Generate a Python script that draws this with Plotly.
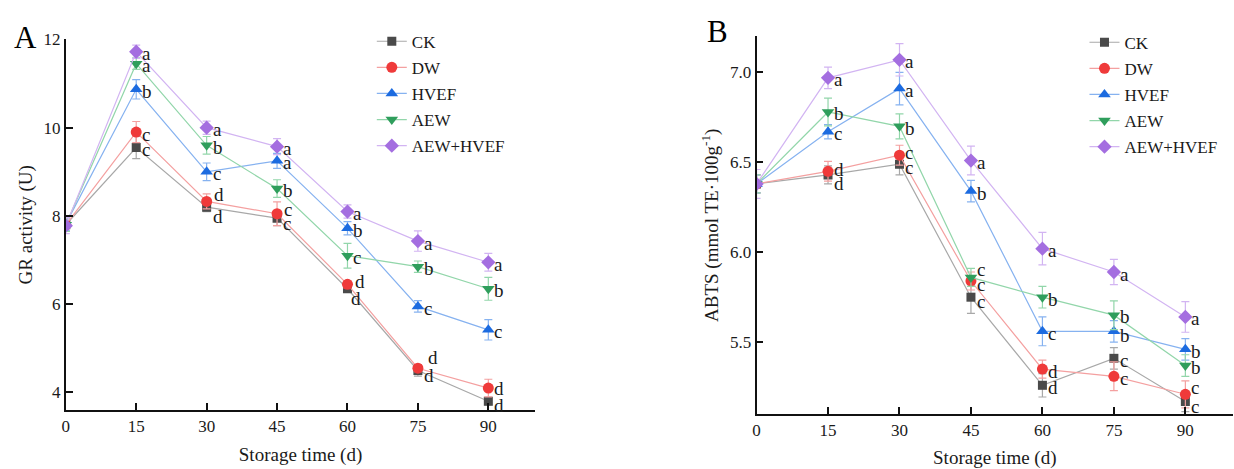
import plotly.graph_objects as go

# Storage days
days = [0, 15, 30, 45, 60, 75, 90]
groups = ["CK", "DW", "HVEF", "AEW", "AEW+HVEF"]

# Panel A: GR activity (U)
gr_ck = [7.80, 9.55, 8.20, 7.95, 6.35, 4.50, 3.80]
gr_dw = [7.80, 9.90, 8.33, 8.05, 6.45, 4.55, 4.10]
gr_hvef = [7.82, 10.87, 9.00, 9.25, 7.72, 5.95, 5.42]
gr_aew = [7.80, 11.45, 9.60, 8.62, 7.10, 6.85, 6.35]
gr_mix = [7.78, 11.72, 10.00, 9.57, 8.10, 7.43, 6.95]

gr_ck_err = [0.15, 0.25, 0.10, 0.17, 0.08, 0.13, 0.08]
gr_dw_err = [0.15, 0.24, 0.17, 0.27, 0.08, 0.08, 0.20]
gr_hvef_err = [0.15, 0.22, 0.20, 0.17, 0.15, 0.13, 0.23]
gr_aew_err = [0.15, 0.13, 0.20, 0.20, 0.28, 0.13, 0.26]
gr_mix_err = [0.18, 0.15, 0.15, 0.18, 0.15, 0.23, 0.20]

gr_ck_sig = ["", "c", "d", "c", "d", "d", "d"]
gr_dw_sig = ["", "c", "d", "c", "d", "d", "d"]
gr_hvef_sig = ["", "b", "c", "a", "b", "c", "c"]
gr_aew_sig = ["", "a", "b", "b", "c", "b", "b"]
gr_mix_sig = ["", "a", "a", "a", "a", "a", "a"]

# Panel B: ABTS (mmol TE·100g-1)
abts_ck = [6.38, 6.43, 6.49, 5.75, 5.26, 5.41, 5.17]
abts_dw = [6.38, 6.45, 6.54, 5.84, 5.35, 5.31, 5.21]
abts_hvef = [6.38, 6.67, 6.91, 6.34, 5.56, 5.56, 5.46]
abts_aew = [6.38, 6.78, 6.70, 5.86, 5.75, 5.65, 5.37]
abts_mix = [6.38, 6.97, 7.07, 6.51, 6.02, 5.89, 5.64]

abts_ck_err = [0.05, 0.05, 0.06, 0.09, 0.065, 0.06, 0.056]
abts_dw_err = [0.05, 0.055, 0.055, 0.05, 0.05, 0.08, 0.075]
abts_hvef_err = [0.05, 0.04, 0.09, 0.06, 0.08, 0.06, 0.06]
abts_aew_err = [0.05, 0.077, 0.07, 0.05, 0.06, 0.08, 0.06]
abts_mix_err = [0.08, 0.06, 0.09, 0.08, 0.09, 0.07, 0.085]

abts_ck_sig = ["", "d", "c", "c", "d", "c", "c"]
abts_dw_sig = ["", "d", "c", "c", "d", "c", "c"]
abts_hvef_sig = ["", "c", "a", "b", "c", "b", "b"]
abts_aew_sig = ["", "b", "b", "c", "b", "b", "b"]
abts_mix_sig = ["", "a", "a", "a", "a", "a", "a"]

# Styling per group
marker_colors = ["#4a4a4a", "#ef3a3a", "#1c6be0", "#2f9e5c", "#a46ee0"]
line_colors = ["#a8a8a8", "#f4a0a0", "#86b2f0", "#92d6aa", "#d2b4f2"]
symbols = ["square", "circle", "triangle-up", "triangle-down", "diamond"]
sizes = [9, 11, 11, 11, 11]

FONT = "Liberation Serif, Times New Roman, serif"
TXT = "#1a1a1a"

# Label nudges (pixels) where letters would collide: (panel, group idx, day idx) -> (dx, dy)
nudges = {
    ("A", 0, 2): (4, -9), ("A", 1, 2): (5, 7),
    ("A", 0, 3): (4, -5), ("A", 1, 3): (5, 4),
    ("A", 0, 4): (2, -10), ("A", 1, 4): (6, 3),
    ("A", 0, 5): (4, -5), ("A", 1, 5): (8, 11),
    ("A", 0, 6): (4, -4), ("A", 1, 6): (4, 0),
    ("B", 0, 1): (4, -9), ("B", 1, 1): (4, 2),
    ("B", 0, 2): (4, -3), ("B", 1, 2): (4, 3),
    ("B", 3, 3): (4, 8), ("B", 1, 3): (4, -3), ("B", 0, 3): (4, -4),
    ("B", 3, 5): (4, -1), ("B", 2, 5): (4, -4),
    ("B", 1, 6): (4, 7), ("B", 0, 6): (4, -5),
}

fig = go.Figure()
annotations = []

panels = [
    ("A", "x", "y", "legend",
     [gr_ck, gr_dw, gr_hvef, gr_aew, gr_mix],
     [gr_ck_err, gr_dw_err, gr_hvef_err, gr_aew_err, gr_mix_err],
     [gr_ck_sig, gr_dw_sig, gr_hvef_sig, gr_aew_sig, gr_mix_sig]),
    ("B", "x2", "y2", "legend2",
     [abts_ck, abts_dw, abts_hvef, abts_aew, abts_mix],
     [abts_ck_err, abts_dw_err, abts_hvef_err, abts_aew_err, abts_mix_err],
     [abts_ck_sig, abts_dw_sig, abts_hvef_sig, abts_aew_sig, abts_mix_sig]),
]

for pname, xa, ya, leg, series, errs, sigs in panels:
    for i, g in enumerate(groups):
        fig.add_trace(go.Scatter(
            x=days, y=series[i], name=g, mode="lines+markers",
            xaxis=xa, yaxis=ya, legend=leg, legendgroup=f"{pname}-{g}",
            line=dict(color=line_colors[i], width=1.2),
            marker=dict(color=marker_colors[i], symbol=symbols[i], size=sizes[i],
                        line=dict(width=0)),
            error_y=dict(type="data", array=errs[i], visible=True,
                         color=line_colors[i], thickness=1.2, width=4),
        ))
    for i in range(len(groups)):
        for j, d in enumerate(days):
            s = sigs[i][j]
            if not s:
                continue
            dx, dy = nudges.get((pname, i, j), (4, -2))
            annotations.append(dict(
                x=d, y=series[i][j], xref=xa, yref=ya, text=s, showarrow=False,
                xanchor="left", yanchor="middle", xshift=dx, yshift=dy,
                font=dict(family=FONT, size=19, color=TXT),
            ))

W, H = 1234, 469

def px(v, total):
    return v / total

axis_common = dict(
    showline=True, linecolor="#111", linewidth=1.6, mirror=False,
    ticks="inside", ticklen=7, tickwidth=1.6, tickcolor="#111",
    showgrid=False, zeroline=False,
    tickfont=dict(family=FONT, size=17, color=TXT),
)

annotations.append(dict(x=px(22, W), y=1 - px(29, H), xref="paper", yref="paper",
                        text="A", showarrow=False, xanchor="center", yanchor="middle",
                        font=dict(family=FONT, size=31, color="#000")))
annotations.append(dict(x=px(716, W), y=1 - px(23, H), xref="paper", yref="paper",
                        text="B", showarrow=False, xanchor="center", yanchor="middle",
                        font=dict(family=FONT, size=31, color="#000")))

legend_common = dict(
    font=dict(family=FONT, size=17, color=TXT), bgcolor="rgba(0,0,0,0)",
    xanchor="left", yanchor="top", traceorder="grouped", tracegroupgap=1,
    itemwidth=30,
)

fig.update_layout(
    width=W, height=H,
    margin=dict(l=0, r=0, t=0, b=0),
    paper_bgcolor="white", plot_bgcolor="white",
    font=dict(family=FONT, color=TXT),
    showlegend=True,
    xaxis=dict(domain=[px(62, W), px(533, W)], range=[0, 100], anchor="y",
               tickvals=days, title=dict(text="Storage time (d)", standoff=12,
                                         font=dict(family=FONT, size=19, color=TXT)),
               **axis_common),
    yaxis=dict(domain=[px(H - 409, H), px(H - 31, H)], range=[3.6, 12], anchor="x",
               tickvals=[4, 6, 8, 10, 12],
               title=dict(text="GR activity (U)", standoff=6,
                          font=dict(family=FONT, size=19, color=TXT)),
               **axis_common),
    xaxis2=dict(domain=[px(755, W), px(1233, W)], range=[0, 100], anchor="y2",
                tickvals=days, title=dict(text="Storage time (d)", standoff=12,
                                          font=dict(family=FONT, size=19, color=TXT)),
                **axis_common),
    yaxis2=dict(domain=[px(H - 413, H), px(H - 28, H)], range=[5.1, 7.2], anchor="x2",
                tickvals=[5.5, 6.0, 6.5, 7.0], tickformat=".1f",
                title=dict(text="ABTS (mmol TE·100g<sup>-1</sup>)", standoff=6,
                           font=dict(family=FONT, size=19, color=TXT)),
                **axis_common),
    legend=dict(x=px(369, W), y=1 - px(15, H), **legend_common),
    legend2=dict(x=px(1084, W), y=1 - px(16, H), **legend_common),
    annotations=annotations,
)

fig.write_html("out.html")
